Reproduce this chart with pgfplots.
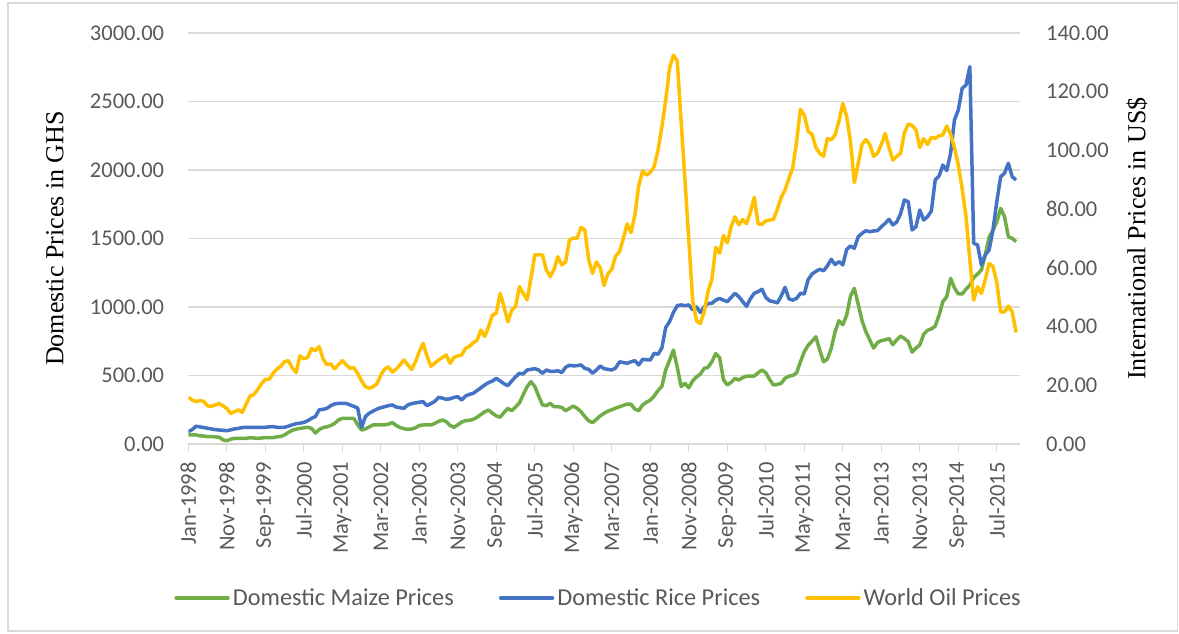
\documentclass[border=0pt]{standalone}
\usepackage{pgfplots}
\pgfplotsset{compat=1.18}
\usepackage{fontspec}
\newfontfamily\calfont{Carlito}
\newfontfamily\tnrfont{Liberation Serif}
\definecolor{maize}{RGB}{112,173,71}
\definecolor{rice}{RGB}{68,114,196}
\definecolor{oil}{RGB}{255,192,0}
\definecolor{labgray}{RGB}{89,89,89}
\definecolor{gridgray}{RGB}{217,217,217}
\newcommand\tickfont{\calfont\fontsize{22.5}{27}\selectfont}
\newcommand\legfont{\calfont\fontsize{24.3}{29}\selectfont}
\newcommand\titlefont{\tnrfont\fontsize{26}{31}\selectfont}
\pgfplotsset{
  common/.style={width=831.6pt, height=411pt, scale only axis, xmin=0, xmax=216,
    /pgf/number format/assume math mode=true,
    yticklabel style={font=\tickfont, text=labgray, inner sep=0pt,
      /pgf/number format/.cd, fixed, fixed zerofill, precision=2, 1000 sep={}},
    ytick style={draw=none},
    y axis line style={draw=none},
    every axis y label/.style={font=\titlefont, rotate=90, anchor=center},
  },
  maizestyle/.style={color=maize, line width=3.5pt, line join=round, no markers},
  ricestyle/.style={color=rice, line width=3.5pt, line join=round, no markers},
  oilstyle/.style={color=oil, line width=3.5pt, line join=round, no markers},
}
\begin{document}
\begin{tikzpicture}
\begin{axis}[common, name=main,
  ymin=0, ymax=3000, ytick={0,500,...,3000},
  yticklabel shift=16pt,
  axis x line*=bottom, axis y line*=left,
  x axis line style={-, draw=gridgray, line width=1.2pt},
  ymajorgrids, grid style={gridgray, line width=1.2pt},
  xtick={0,10,...,210},
  xticklabels={Jan-1998,Nov-1998,Sep-1999,Jul-2000,May-2001,Mar-2002,Jan-2003,Nov-2003,Sep-2004,Jul-2005,May-2006,Mar-2007,Jan-2008,Nov-2008,Sep-2009,Jul-2010,May-2011,Mar-2012,Jan-2013,Nov-2013,Sep-2014,Jul-2015},
  xtick style={draw=gridgray, line width=1.2pt},
  major tick length=8pt, tick align=outside,
  xticklabel style={font=\tickfont, text=labgray, rotate=90, anchor=east, inner sep=0pt},
  xticklabel shift=10pt,
  ylabel={Domestic Prices in GHS},
  every axis y label/.append style={at={(axis description cs:-0.1603,0.5)}},
]
\addplot[maizestyle] table {
i v
0 66
1 66
2 66
3 60
4 58
5 54
6 54
7 52
8 50
9 30
10 24
11 35
12 41
13 41
14 41
15 42
16 45
17 44
18 41
19 44
20 46
21 46
22 46
23 52
24 55
25 66
26 85
27 100
28 108
29 114
30 118
31 122
32 114
33 80
34 105
35 120
36 125
37 135
38 150
39 175
40 187
41 187
42 187
43 187
44 140
45 102
46 110
47 125
48 139
49 139
50 139
51 140
52 145
53 156
54 135
55 120
56 112
57 107
58 110
59 118
60 135
61 139
62 139
63 139
64 150
65 165
66 175
67 163
68 135
69 122
70 140
71 160
72 170
73 173
74 180
75 195
76 215
77 235
78 248
79 224
80 205
81 195
82 230
83 260
84 243
85 270
86 300
87 360
88 418
89 455
90 420
91 350
92 285
93 280
94 297
95 272
96 272
97 268
98 243
99 260
100 277
101 260
102 236
103 200
104 170
105 156
106 180
107 205
108 224
109 240
110 250
111 262
112 272
113 282
114 292
115 290
116 255
117 243
118 285
119 305
120 320
121 350
122 390
123 420
124 540
125 610
126 686
127 560
128 420
129 443
130 410
131 460
132 490
133 510
134 552
135 560
136 600
137 660
138 630
139 470
140 431
141 450
142 479
143 467
144 485
145 495
146 496
147 496
148 520
149 540
150 520
151 470
152 431
153 435
154 443
155 480
156 495
157 500
158 520
159 600
160 674
161 720
162 750
163 783
164 686
165 600
166 620
167 698
168 820
169 900
170 870
171 940
172 1080
173 1136
174 1020
175 900
176 820
177 760
178 700
179 740
180 755
181 760
182 770
183 725
184 760
185 788
186 770
187 747
188 670
189 700
190 723
191 800
192 830
193 840
194 860
195 940
196 1040
197 1075
198 1209
199 1140
200 1095
201 1095
202 1130
203 1160
204 1215
205 1240
206 1270
207 1380
208 1510
209 1560
210 1620
211 1720
212 1660
213 1513
214 1501
215 1477
};
\addplot[ricestyle] table {
i v
0 90
1 105
2 130
3 125
4 120
5 115
6 110
7 105
8 102
9 100
10 97
11 103
12 110
13 114
14 120
15 122
16 122
17 122
18 122
19 122
20 122
21 125
22 127
23 122
24 122
25 122
26 130
27 140
28 148
29 152
30 157
31 170
32 187
33 200
34 250
35 253
36 260
37 280
38 292
39 297
40 297
41 297
42 285
43 275
44 262
45 120
46 200
47 225
48 240
49 255
50 265
51 272
52 280
53 285
54 270
55 265
56 260
57 285
58 295
59 300
60 305
61 309
62 280
63 295
64 310
65 340
66 335
67 326
68 330
69 340
70 345
71 321
72 350
73 362
74 370
75 390
76 410
77 431
78 448
79 460
80 479
81 460
82 440
83 426
84 460
85 490
86 516
87 511
88 540
89 545
90 550
91 540
92 516
93 540
94 530
95 530
96 535
97 521
98 560
99 575
100 570
101 572
102 577
103 552
104 545
105 516
106 540
107 569
108 550
109 545
110 540
111 555
112 600
113 595
114 589
115 600
116 608
117 577
118 618
119 615
120 613
121 662
122 655
123 700
124 850
125 893
126 960
127 1010
128 1015
129 1010
130 1015
131 980
132 1000
133 960
134 1000
135 1027
136 1027
137 1050
138 1063
139 1050
140 1039
141 1070
142 1100
143 1075
144 1040
145 1005
146 1060
147 1100
148 1112
149 1129
150 1070
151 1045
152 1039
153 1030
154 1080
155 1144
156 1060
157 1050
158 1063
159 1100
160 1095
161 1200
162 1240
163 1260
164 1275
165 1265
166 1300
167 1348
168 1310
169 1331
170 1307
171 1420
172 1445
173 1428
174 1513
175 1538
176 1557
177 1550
178 1555
179 1557
180 1586
181 1610
182 1640
183 1599
184 1620
185 1680
186 1781
187 1769
188 1562
189 1586
190 1708
191 1635
192 1659
193 1700
194 1927
195 1956
196 2036
197 1996
198 2122
199 2365
200 2438
201 2596
202 2620
203 2754
204 1465
205 1453
206 1307
207 1380
208 1416
209 1562
210 1769
211 1951
212 1976
213 2049
214 1951
215 1927
};
\end{axis}
\begin{axis}[common,
  ymin=0, ymax=140, ytick={0,20,...,140},
  yticklabel shift=26pt,
  axis x line=none, axis y line*=right,
  ylabel={International Prices in US\$},
  every axis y label/.append style={at={(axis description cs:1.1408,0.5)}},
  legend style={at={(axis description cs:0.4933,-0.3747)}, anchor=center,
    draw=none, fill=none, font=\legfont, text=labgray, legend columns=3,
    /tikz/every even column/.append style={column sep=43pt},
    /tikz/every odd column/.append style={column sep=1pt}},
  legend image code/.code={\draw[#1, line width=4.5pt, line cap=round] (0pt,0pt) -- (51pt,0pt);},
]
\addlegendimage{maizestyle}
\addlegendentry{Domestic Maize Prices}
\addlegendimage{ricestyle}
\addlegendentry{Domestic Rice Prices}
\addplot[oilstyle] table {
i v
0 15.9
1 15.0
2 14.4
3 14.8
4 14.5
5 13.0
6 12.8
7 13.3
8 13.8
9 13.0
10 12.1
11 10.4
12 11.0
13 11.6
14 10.8
15 13.5
16 16.3
17 16.8
18 18.5
19 20.5
20 22.0
21 22.0
22 24.0
23 25.5
24 26.5
25 28.0
26 28.4
27 26.0
28 24.3
29 30.0
30 29.0
31 29.5
32 32.5
33 31.8
34 33.2
35 29.0
36 27.0
37 27.3
38 25.6
39 27.0
40 28.4
41 27.0
42 25.8
43 26.0
44 24.0
45 21.5
46 19.5
47 19.0
48 19.5
49 20.5
50 23.5
51 25.5
52 26.3
53 24.5
54 25.5
55 27.0
56 28.6
57 27.0
58 25.4
59 28.0
60 31.5
61 34.3
62 30.0
63 26.5
64 27.5
65 28.6
66 29.5
67 30.3
68 27.5
69 29.5
70 30.0
71 30.3
72 32.6
73 33.2
74 34.5
75 35.4
76 38.8
77 36.6
78 40.0
79 43.9
80 44.5
81 51.3
82 46.8
83 41.6
84 45.6
85 46.8
86 53.6
87 51.3
88 49.1
89 56.4
90 64.4
91 64.4
92 64.4
93 59.3
94 57.0
95 59.5
96 63.8
97 61.0
98 62.0
99 69.5
100 70.1
101 70.1
102 73.8
103 72.9
104 62.7
105 58.1
106 62.0
107 60.0
108 54.0
109 58.0
110 59.5
111 64.0
112 65.5
113 70.0
114 75.0
115 72.0
116 78.0
117 88.0
118 93.0
119 91.6
120 92.5
121 94.5
122 100.0
123 108.0
124 117.0
125 128.0
126 132.5
127 130.5
128 110.0
129 90.0
130 69.5
131 49.0
132 42.0
133 41.0
134 45.0
135 52.0
136 56.0
137 67.0
138 65.0
139 71.0
140 68.5
141 74.0
142 77.4
143 74.6
144 76.5
145 75.0
146 79.0
147 84.0
148 75.0
149 74.8
150 76.0
151 76.3
152 76.5
153 80.0
154 84.0
155 86.5
156 90.5
157 94.0
158 103.0
159 114.0
160 112.0
161 106.5
162 105.5
163 101.0
164 99.0
165 98.0
166 104.0
167 103.6
168 105.3
169 110.0
170 116.0
171 111.5
172 103.0
173 89.0
174 95.6
175 102.0
176 103.7
177 102.0
178 98.0
179 99.0
180 102.0
181 105.8
182 101.0
183 96.7
184 98.0
185 99.0
186 106.0
187 109.0
188 108.5
189 107.0
190 101.0
191 104.0
192 102.0
193 104.5
194 104.1
195 105.0
196 105.3
197 108.3
198 105.5
199 101.0
200 95.0
201 87.0
202 77.4
203 62.7
204 49.0
205 53.6
206 51.3
207 56.0
208 61.5
209 60.5
210 55.0
211 45.0
212 45.0
213 47.0
214 45.0
215 38.0
};
\addlegendentry{World Oil Prices}
\end{axis}
\pgfresetboundingbox
\path[use as bounding box] (-188.3pt,-190pt) rectangle (990.7pt,444pt);
\draw[gridgray, line width=1.5pt] (-180.3pt,-187pt) rectangle (989pt,441pt);
\end{tikzpicture}
\end{document}
